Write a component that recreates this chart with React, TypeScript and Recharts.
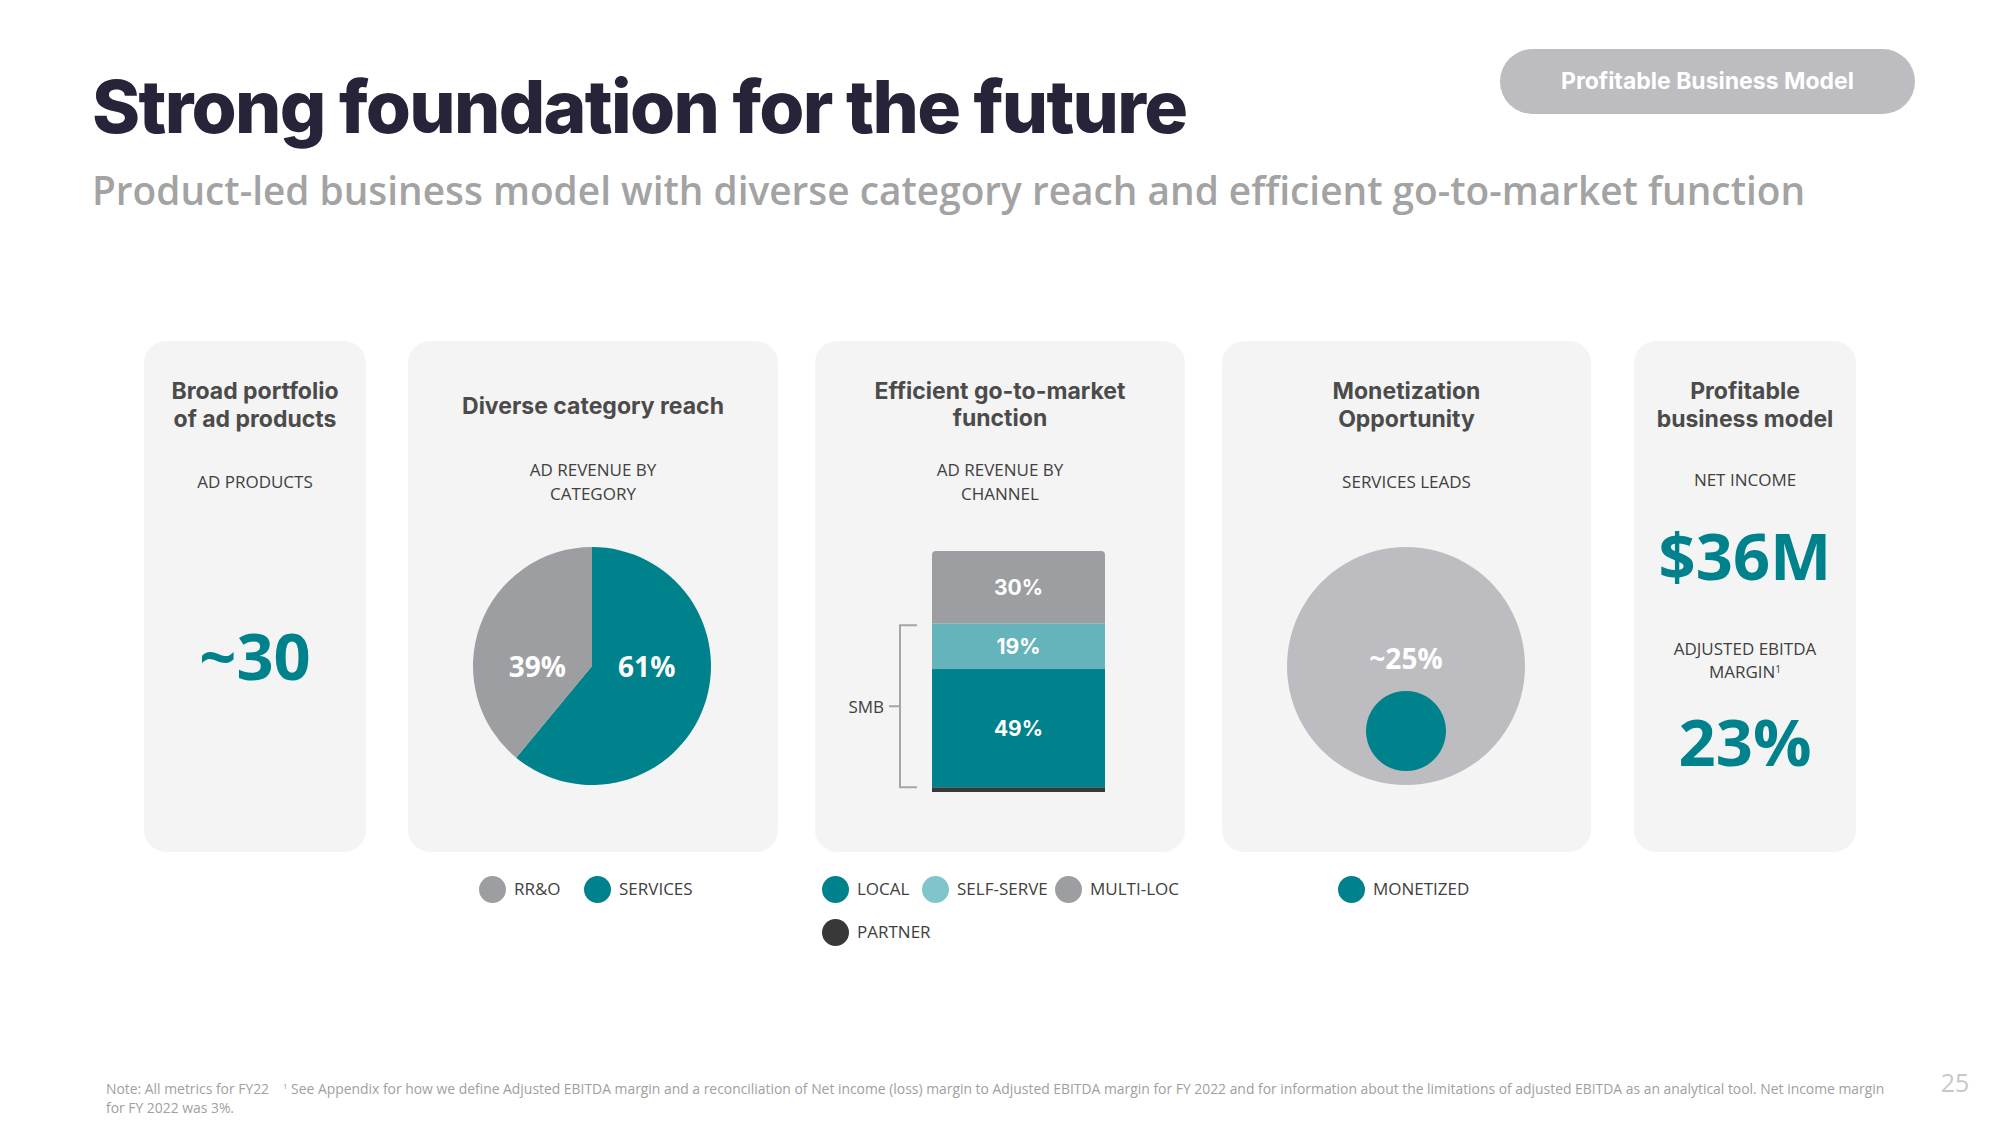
import React from "react";
import { PieChart, Pie, Cell, BarChart, Bar, XAxis, YAxis, LabelList } from "recharts";

// ---- data ----
const CATEGORY_NAMES = ["SERVICES", "RR&O"];
const CATEGORY_SHARES = [61, 39];

const CHANNEL_KEYS = ["partner", "local", "selfServe", "multiLoc"];
const CHANNEL_NAMES = ["PARTNER", "LOCAL", "SELF-SERVE", "MULTI-LOC"];
const CHANNEL_SHARES = [2, 49, 19, 30];

const LEADS_TOTAL = 100;
const LEADS_MONETIZED = 25;

const AD_PRODUCTS = "~30";
const NET_INCOME = "$36M";
const EBITDA_MARGIN = "23%";

// ---- colours ----
const TEAL = "#00828c";
const GRAY = "#9d9ea2";
const LIGHT_TEAL = "#66b4bb";
const LIGHT_TEAL_DOT = "#80c5cb";
const DARK = "#383838";
const LEADS_GRAY = "#bcbcc1";
const HEAD = "#4b4b4b";
const LABEL = "#404040";

const CATEGORY_COLORS = [TEAL, GRAY];
const CHANNEL_COLORS = [DARK, TEAL, LIGHT_TEAL, GRAY];

const HEAD_FONT = "Inter, sans-serif";
const BODY_FONT = "'Open Sans', sans-serif";
const NO_MARGIN = { top: 0, right: 0, bottom: 0, left: 0 };

const CARDS = [
  { x: 144, w: 222 },
  { x: 408, w: 370 },
  { x: 815, w: 370 },
  { x: 1222, w: 369 },
  { x: 1634, w: 222 },
];

type TxtProps = {
  x: number;
  w: number;
  cy: number;
  size: number;
  lh?: number;
  weight?: number;
  color?: string;
  font?: string;
  align?: "left" | "center" | "right";
  ls?: number;
  children: React.ReactNode;
};

function Txt({ x, w, cy, size, lh, weight = 400, color = LABEL, font = BODY_FONT, align = "center", ls = 0, children }: TxtProps) {
  const l = lh ?? size * 1.2;
  return (
    <div
      style={{
        position: "absolute",
        left: x,
        width: w,
        top: cy - l / 2,
        lineHeight: `${l}px`,
        fontSize: size,
        fontWeight: weight,
        color,
        fontFamily: font,
        textAlign: align,
        letterSpacing: ls,
        whiteSpace: "nowrap",
      }}
    >
      {children}
    </div>
  );
}

function Dot({ cx, cy, color, label }: { cx: number; cy: number; color: string; label: string }) {
  return (
    <>
      <div
        style={{
          position: "absolute",
          left: cx - 13.5,
          top: cy - 13.5,
          width: 27,
          height: 27,
          borderRadius: "50%",
          background: color,
        }}
      />
      <Txt x={cx + 22} w={200} cy={cy} size={17} lh={24} align="left">
        {label}
      </Txt>
    </>
  );
}

const RADIAN = Math.PI / 180;

function categoryLabel(props: any) {
  const { cx, cy, midAngle, outerRadius, value } = props;
  const dir = Math.cos(-midAngle * RADIAN) > 0 ? 1 : -1;
  return (
    <text
      x={cx + dir * outerRadius * 0.46}
      y={cy}
      fill="#fff"
      textAnchor="middle"
      dominantBaseline="central"
      style={{ fontFamily: BODY_FONT, fontWeight: 700, fontSize: 28 }}
    >
      {`${value}%`}
    </text>
  );
}

function leadsLabel(props: any) {
  const { cx, cy } = props;
  return (
    <text
      x={cx}
      y={cy - 8}
      fill="#fff"
      textAnchor="middle"
      dominantBaseline="central"
      style={{ fontFamily: BODY_FONT, fontWeight: 700, fontSize: 28 }}
    >
      {`~${LEADS_MONETIZED}%`}
    </text>
  );
}

// self-serve segment also carries the SMB bracket (self-serve + local)
function SmbShape(props: any) {
  const { x, y, width, height, fill, payload } = props;
  const localH = (height * payload.local) / payload.selfServe;
  const top = y + 2;
  const bottom = y + height + localH;
  const mid = (top + bottom) / 2;
  const bx = x - 32;
  return (
    <g>
      <rect x={x} y={y} width={width} height={height} fill={fill} />
      <path
        d={`M${x - 15},${top} H${bx} V${bottom} H${x - 15} M${bx},${mid} H${x - 43}`}
        stroke="#a5a5a5"
        strokeWidth={2}
        fill="none"
      />
      <text
        x={x - 48}
        y={mid}
        textAnchor="end"
        dominantBaseline="central"
        fill={LABEL}
        style={{ fontFamily: BODY_FONT, fontSize: 17 }}
      >
        SMB
      </text>
    </g>
  );
}

export default function App() {
  const categoryData = CATEGORY_NAMES.map((name, i) => ({ name, value: CATEGORY_SHARES[i] }));
  const channelRow: Record<string, string | number>[] = [
    Object.fromEntries([["name", "AD REVENUE"], ...CHANNEL_KEYS.map((k, i) => [k, CHANNEL_SHARES[i]])]),
  ];
  const leadsData = [{ name: "SERVICES LEADS", value: LEADS_TOTAL }];
  const monetizedData = [{ name: "MONETIZED", value: LEADS_MONETIZED }];

  return (
    <div
      style={{
        position: "absolute",
        left: 0,
        top: 0,
        width: 2000,
        height: 1125,
        background: "#fff",
        overflow: "hidden",
      }}
    >
      {/* header */}
      <Txt x={92} w={1300} cy={107} size={73} lh={90} weight={800} color="#27243a" font={HEAD_FONT} align="left" ls={-1.7}>
        Strong foundation for the future
      </Txt>
      <Txt x={92} w={1850} cy={190} size={38.8} lh={50} weight={600} color="#a3a3a3" align="left">
        Product-led business model with diverse category reach and efficient go-to-market function
      </Txt>
      <div
        style={{
          position: "absolute",
          left: 1500,
          top: 49,
          width: 415,
          height: 65,
          borderRadius: 33,
          background: LEADS_GRAY,
        }}
      />
      <Txt x={1500} w={415} cy={81} size={23} lh={30} weight={700} color="#fff" font={HEAD_FONT}>
        Profitable Business Model
      </Txt>

      {/* cards */}
      {CARDS.map((c, i) => (
        <div
          key={i}
          style={{
            position: "absolute",
            left: c.x,
            top: 341,
            width: c.w,
            height: 511,
            borderRadius: 22,
            background: "#f4f4f4",
          }}
        />
      ))}

      {/* card 1 */}
      <Txt x={CARDS[0].x} w={CARDS[0].w} cy={391} size={23} lh={28} weight={700} color={HEAD} font={HEAD_FONT}>
        Broad portfolio
        <br />
        of ad products
      </Txt>
      <Txt x={CARDS[0].x} w={CARDS[0].w} cy={482} size={17}>
        AD PRODUCTS
      </Txt>
      <Txt x={CARDS[0].x} w={CARDS[0].w} cy={655} size={65} lh={80} weight={700} color={TEAL}>
        {AD_PRODUCTS}
      </Txt>

      {/* card 2 */}
      <Txt x={CARDS[1].x} w={CARDS[1].w} cy={406} size={23} lh={28} weight={700} color={HEAD} font={HEAD_FONT}>
        Diverse category reach
      </Txt>
      <Txt x={CARDS[1].x} w={CARDS[1].w} cy={470} size={17} lh={23.5}>
        AD REVENUE BY
        <br />
        CATEGORY
      </Txt>
      <div style={{ position: "absolute", left: CARDS[1].x, top: 520 }}>
        <PieChart width={370} height={300} margin={NO_MARGIN}>
          <Pie
            data={categoryData}
            dataKey="value"
            cx={184}
            cy={146}
            outerRadius={119}
            startAngle={90}
            endAngle={-270}
            stroke="none"
            label={categoryLabel}
            labelLine={false}
            isAnimationActive={false}
          >
            {categoryData.map((d, i) => (
              <Cell key={d.name} fill={CATEGORY_COLORS[i]} />
            ))}
          </Pie>
        </PieChart>
      </div>

      {/* card 3 */}
      <Txt x={CARDS[2].x} w={CARDS[2].w} cy={391} size={23} lh={27} weight={700} color={HEAD} font={HEAD_FONT}>
        Efficient go-to-market
        <br />
        function
      </Txt>
      <Txt x={CARDS[2].x} w={CARDS[2].w} cy={470} size={17} lh={23.5}>
        AD REVENUE BY
        <br />
        CHANNEL
      </Txt>
      <div style={{ position: "absolute", left: CARDS[2].x, top: 540 }}>
        <BarChart
          width={370}
          height={260}
          data={channelRow}
          margin={{ top: 11, right: 0, bottom: 8, left: 37 }}
          style={{ overflow: "visible" }}
        >
          <XAxis dataKey="name" hide />
          <YAxis hide domain={[0, 100]} />
          {CHANNEL_KEYS.map((k, i) => (
            <Bar
              key={k}
              dataKey={k}
              stackId="channel"
              fill={CHANNEL_COLORS[i]}
              barSize={173}
              radius={k === "multiLoc" ? [4, 4, 0, 0] : 0}
              shape={k === "selfServe" ? SmbShape : undefined}
              isAnimationActive={false}
            >
              {k !== "partner" && (
                <LabelList
                  dataKey={k}
                  position="center"
                  formatter={(v: any) => `${v}%`}
                  fill="#fff"
                  style={{ fontFamily: HEAD_FONT, fontWeight: 700, fontSize: 21 }}
                />
              )}
            </Bar>
          ))}
        </BarChart>
      </div>

      {/* card 4 */}
      <Txt x={CARDS[3].x} w={CARDS[3].w} cy={391} size={23} lh={28} weight={700} color={HEAD} font={HEAD_FONT}>
        Monetization
        <br />
        Opportunity
      </Txt>
      <Txt x={CARDS[3].x} w={CARDS[3].w} cy={482} size={17}>
        SERVICES LEADS
      </Txt>
      <div style={{ position: "absolute", left: CARDS[3].x, top: 520 }}>
        <PieChart width={369} height={300} margin={NO_MARGIN}>
          <Pie
            data={leadsData}
            dataKey="value"
            cx={184}
            cy={146}
            outerRadius={119}
            startAngle={90}
            endAngle={-270}
            stroke="none"
            fill={LEADS_GRAY}
            label={leadsLabel}
            labelLine={false}
            isAnimationActive={false}
          />
          <Pie
            data={monetizedData}
            dataKey="value"
            cx={184}
            cy={211}
            outerRadius={40}
            startAngle={90}
            endAngle={-270}
            stroke="none"
            fill={TEAL}
            isAnimationActive={false}
          />
        </PieChart>
      </div>

      {/* card 5 */}
      <Txt x={CARDS[4].x} w={CARDS[4].w} cy={391} size={23} lh={28} weight={700} color={HEAD} font={HEAD_FONT}>
        Profitable
        <br />
        business model
      </Txt>
      <Txt x={CARDS[4].x} w={CARDS[4].w} cy={480} size={17}>
        NET INCOME
      </Txt>
      <Txt x={CARDS[4].x} w={CARDS[4].w} cy={555} size={65} lh={80} weight={700} color={TEAL}>
        {NET_INCOME}
      </Txt>
      <Txt x={CARDS[4].x} w={CARDS[4].w} cy={648} size={17} lh={23}>
        ADJUSTED EBITDA
        <br />
        MARGIN<sup style={{ fontSize: 10, verticalAlign: "top", lineHeight: "18px" }}>1</sup>
      </Txt>
      <Txt x={CARDS[4].x} w={CARDS[4].w} cy={741} size={65} lh={80} weight={700} color={TEAL}>
        {EBITDA_MARGIN}
      </Txt>

      {/* legends */}
      <Dot cx={492} cy={889} color={CATEGORY_COLORS[1]} label={CATEGORY_NAMES[1]} />
      <Dot cx={597} cy={889} color={CATEGORY_COLORS[0]} label={CATEGORY_NAMES[0]} />

      <Dot cx={835} cy={889} color={TEAL} label={CHANNEL_NAMES[1]} />
      <Dot cx={935} cy={889} color={LIGHT_TEAL_DOT} label={CHANNEL_NAMES[2]} />
      <Dot cx={1068} cy={889} color={GRAY} label={CHANNEL_NAMES[3]} />
      <Dot cx={835} cy={932} color={DARK} label={CHANNEL_NAMES[0]} />

      <Dot cx={1351} cy={889} color={TEAL} label={monetizedData[0].name} />

      {/* footer */}
      <Txt x={106} w={1850} cy={1089} size={13.9} lh={18} color="#a0a0a0" align="left">
        Note: All metrics for FY22{"\u2003"}
        <sup style={{ fontSize: 8, verticalAlign: "top", lineHeight: "12px" }}>1</sup> See Appendix for how we define
        Adjusted EBITDA margin and a reconciliation of Net income (loss) margin to Adjusted EBITDA margin for FY 2022 and
        for information about the limitations of adjusted EBITDA as an analytical tool. Net income margin
      </Txt>
      <Txt x={106} w={600} cy={1108} size={13.9} lh={18} color="#a0a0a0" align="left">
        for FY 2022 was 3%.
      </Txt>
      <Txt x={1920} w={70} cy={1082} size={25} lh={30} color="#c8c8c8">
        25
      </Txt>
    </div>
  );
}
